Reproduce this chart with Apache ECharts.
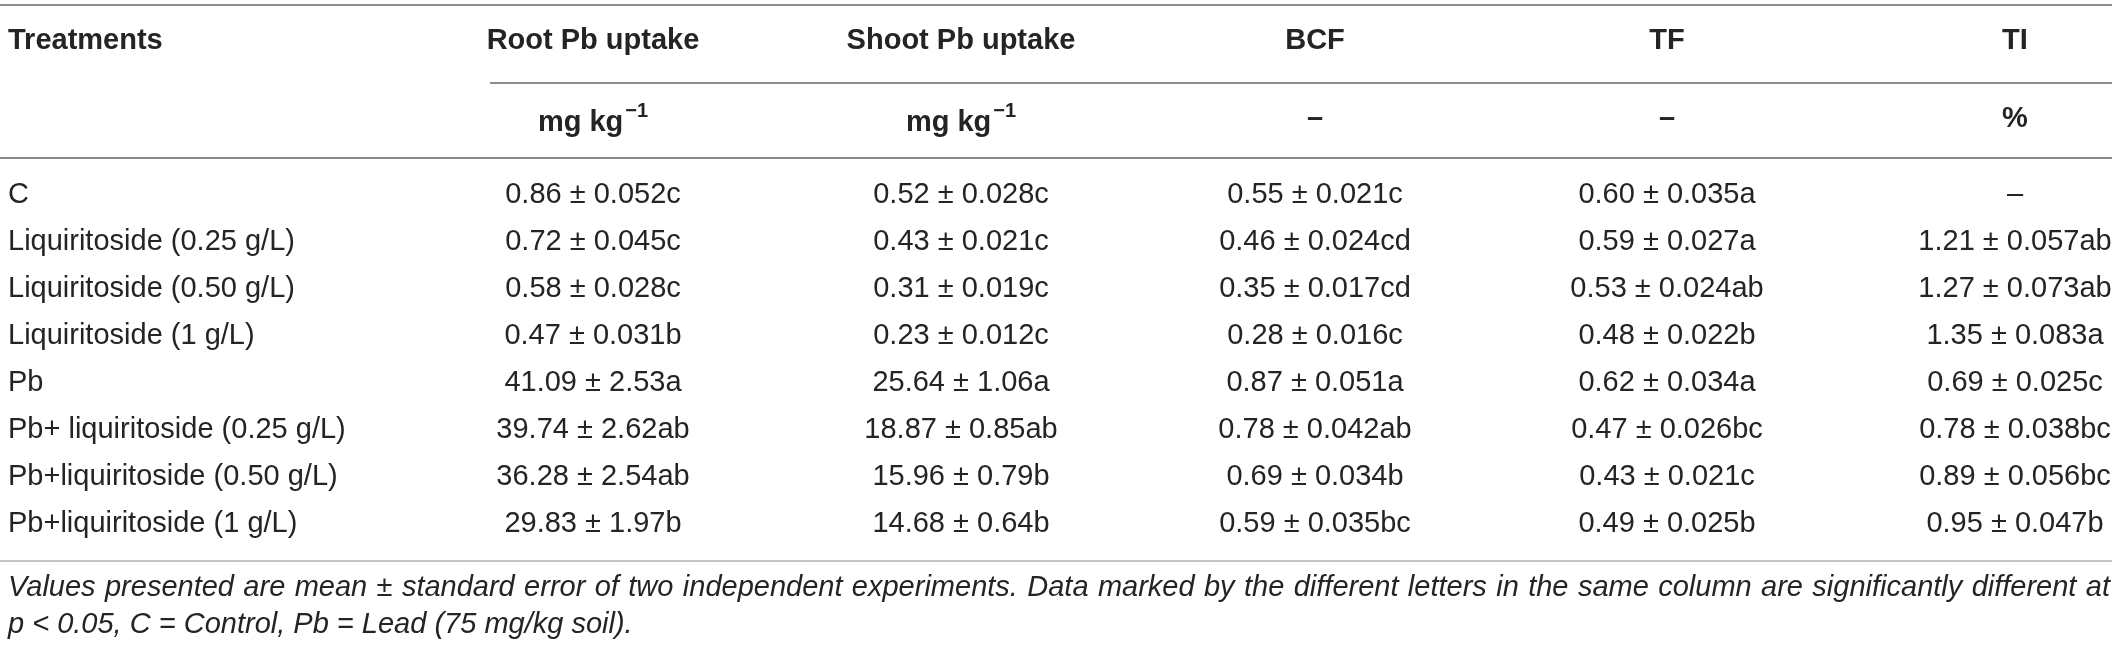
<!DOCTYPE html>
<html><head><meta charset="utf-8">
<script src="https://cdn.jsdelivr.net/npm/echarts@6/dist/echarts.min.js"></script>
<style>html,body{margin:0;padding:0;background:#fff;}#c{width:2119px;height:647px;}</style>
</head><body><div id="c"></div>
<script>
// ---- table content ----
const headers = ["Treatments", "Root Pb uptake", "Shoot Pb uptake", "BCF", "TF", "TI"];
const units = ["", "mg kg|−1", "mg kg|−1", "–", "–", "%"];
const treatments = ["C", "Liquiritoside (0.25 g/L)", "Liquiritoside (0.50 g/L)", "Liquiritoside (1 g/L)", "Pb",
  "Pb+ liquiritoside (0.25 g/L)", "Pb+liquiritoside (0.50 g/L)", "Pb+liquiritoside (1 g/L)"];
const rootPb = ["0.86 ± 0.052c", "0.72 ± 0.045c", "0.58 ± 0.028c", "0.47 ± 0.031b", "41.09 ± 2.53a", "39.74 ± 2.62ab", "36.28 ± 2.54ab", "29.83 ± 1.97b"];
const shootPb = ["0.52 ± 0.028c", "0.43 ± 0.021c", "0.31 ± 0.019c", "0.23 ± 0.012c", "25.64 ± 1.06a", "18.87 ± 0.85ab", "15.96 ± 0.79b", "14.68 ± 0.64b"];
const bcf = ["0.55 ± 0.021c", "0.46 ± 0.024cd", "0.35 ± 0.017cd", "0.28 ± 0.016c", "0.87 ± 0.051a", "0.78 ± 0.042ab", "0.69 ± 0.034b", "0.59 ± 0.035bc"];
const tf = ["0.60 ± 0.035a", "0.59 ± 0.027a", "0.53 ± 0.024ab", "0.48 ± 0.022b", "0.62 ± 0.034a", "0.47 ± 0.026bc", "0.43 ± 0.021c", "0.49 ± 0.025b"];
const ti = ["–", "1.21 ± 0.057ab", "1.27 ± 0.073ab", "1.35 ± 0.083a", "0.69 ± 0.025c", "0.78 ± 0.038bc", "0.89 ± 0.056bc", "0.95 ± 0.047b"];
const footnote1 = "Values presented are mean ± standard error of two independent experiments. Data marked by the different letters in the same column are significantly different at";
const footnote2 = "p < 0.05, C = Control, Pb = Lead (75 mg/kg soil).";

// ---- layout (pixel-like axis units) ----
const W = 2119, H = 647;
const colX = [8, 593, 961, 1315, 1667, 2015];
const headerY = 41, unitY = 119, row0Y = 195, rowStep = 47;
const tableLeft = 0, tableRight = 2112;
const fnY = [588, 625];
const textColor = '#262324';
const bodyFont = '29px "Liberation Sans", Arial, sans-serif';
const boldFont = 'bold 29px "Liberation Sans", Arial, sans-serif';
const supFont = 'bold 20px "Liberation Sans", Arial, sans-serif';
const fnFont = 'italic 29px "Liberation Sans", Arial, sans-serif';

const columns = [treatments, rootPb, shootPb, bcf, tf, ti];
const cells = [];
headers.forEach((h, c) => cells.push({x: colX[c], y: headerY, text: h, font: boldFont, align: c === 0 ? 'left' : 'center'}));
units.forEach((u, c) => {
  if (!u) return;
  if (u.indexOf('|') >= 0) {
    const parts = u.split('|');
    cells.push({x: colX[c], y: unitY, rich: '{b|' + parts[0] + '}{s|' + parts[1] + '}', align: 'center'});
  } else {
    cells.push({x: colX[c], y: unitY, text: u, font: boldFont, align: 'center'});
  }
});
columns.forEach((col, c) => col.forEach((t, r) => cells.push({
  x: colX[c], y: row0Y + r * rowStep, text: t, font: bodyFont, align: c === 0 ? 'left' : 'center'
})));

// footnote line 1 justified across table width
const ctx = document.createElement('canvas').getContext('2d');
ctx.font = fnFont;
(function () {
  const words = footnote1.split(' ');
  const widths = words.map(w => ctx.measureText(w).width);
  const total = widths.reduce((a, b) => a + b, 0);
  const left = colX[0], right = tableRight - 2;
  const gap = (right - left - total) / (words.length - 1);
  let x = left;
  words.forEach((w, i) => { cells.push({x: x, y: fnY[0], text: w, font: fnFont, align: 'left'}); x += widths[i] + gap; });
})();
cells.push({x: colX[0], y: fnY[1], text: footnote2, font: fnFont, align: 'left'});

const rules = [
  {x1: tableLeft, x2: tableRight, y: 5, color: '#8c8c8c'},
  {x1: 490, x2: tableRight, y: 83, color: '#8c8c8c'},
  {x1: tableLeft, x2: tableRight, y: 158, color: '#8c8c8c'},
  {x1: tableLeft, x2: tableRight, y: 561, color: '#c4c4c4'}
];

const chart = echarts.init(document.getElementById('c'), null, {renderer: 'canvas'});
chart.setOption({
  backgroundColor: '#fff',
  animation: false,
  grid: {left: 0, right: 0, top: 0, bottom: 0},
  xAxis: {type: 'value', min: 0, max: W, show: false},
  yAxis: {type: 'value', min: 0, max: H, inverse: true, show: false},
  series: [
    {
      type: 'custom', coordinateSystem: 'cartesian2d', silent: true,
      data: rules.map(r => [r.x1, r.y, r.x2]),
      renderItem: function (params, api) {
        const r = rules[params.dataIndex];
        const p1 = api.coord([api.value(0), api.value(1)]);
        const p2 = api.coord([api.value(2), api.value(1)]);
        return {type: 'line', shape: {x1: p1[0], y1: p1[1], x2: p2[0], y2: p2[1]},
          style: {stroke: r.color, lineWidth: 2}};
      }
    },
    {
      type: 'custom', coordinateSystem: 'cartesian2d', silent: true,
      data: cells.map(c => [c.x, c.y]),
      renderItem: function (params, api) {
        const c = cells[params.dataIndex];
        const p = api.coord([api.value(0), api.value(1)]);
        const style = {fill: textColor, align: c.align, verticalAlign: 'middle'};
        if (c.rich) {
          style.text = c.rich;
          style.rich = {
            b: {font: boldFont, fill: textColor, verticalAlign: 'bottom'},
            s: {font: supFont, fill: textColor, verticalAlign: 'top', padding: [0, 0, 16, 2]}
          };
        } else {
          style.text = c.text;
          style.font = c.font;
        }
        return {type: 'text', x: p[0], y: p[1], style: style};
      }
    }
  ]
});
</script>
</body></html>
